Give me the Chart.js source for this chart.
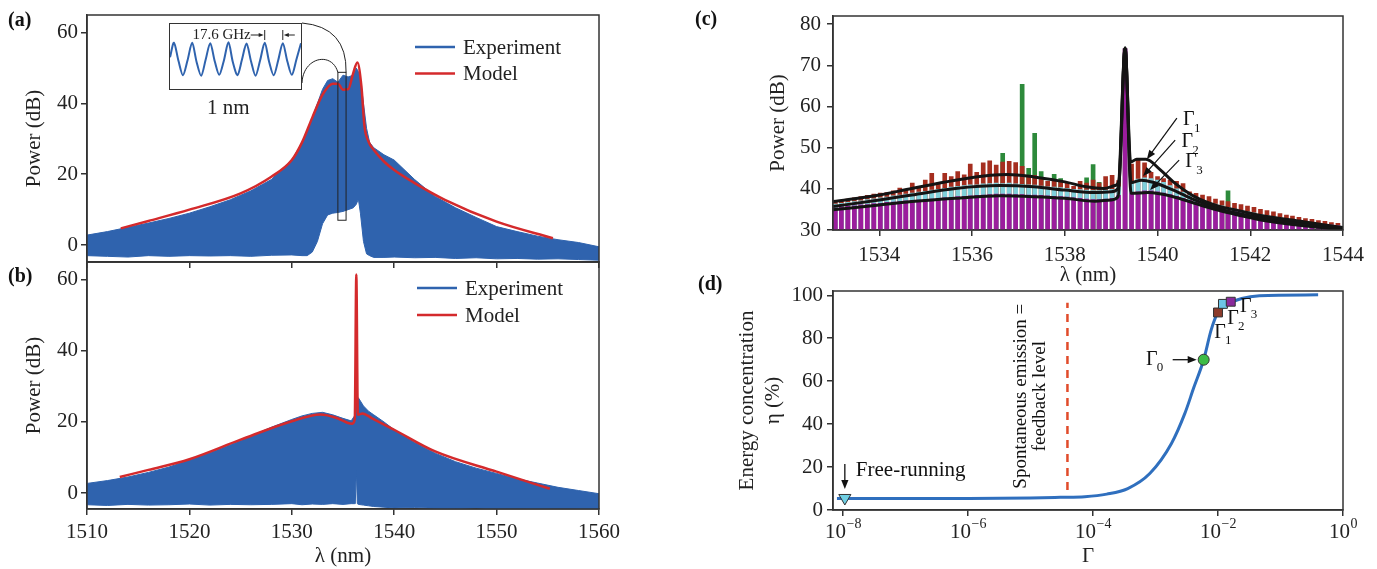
<!DOCTYPE html>
<html>
<head>
<meta charset="utf-8">
<script src="https://cdn.jsdelivr.net/npm/chart.js@4.4.1/dist/chart.umd.min.js"></script>
<style>
  body { margin: 0; background: #fff; width: 1377px; height: 569px; overflow: hidden; position: relative; font-family: 'Liberation Serif', serif; }
  .box { position: absolute; }
  .tag { position: absolute; font: bold 20px 'Liberation Serif', serif; line-height: 22px; color: #111; }
  .note { position: absolute; font: 21px 'Liberation Serif', serif; line-height: 21px; color: #222; }
  #inset { position: absolute; left: 169px; top: 23px; width: 131px; height: 65px; border: 1.5px solid #333; background: #fff; }
</style>
</head>
<body>
<div class="box" style="left:0;top:0;width:620px;height:270px"><canvas id="chartA"></canvas></div>
<div class="box" style="left:0;top:250px;width:620px;height:319px"><canvas id="chartB"></canvas></div>
<div class="box" style="left:690px;top:0;width:687px;height:290px"><canvas id="chartC"></canvas></div>
<div class="box" style="left:690px;top:270px;width:687px;height:299px"><canvas id="chartD"></canvas></div>
<div id="inset"><canvas id="chartInset"></canvas></div>
<div class="note" style="left:207px;top:97px">1 nm</div>
<div class="tag" style="left:8px;top:8px">(a)</div>
<div class="tag" style="left:8px;top:264px">(b)</div>
<div class="tag" style="left:695px;top:7px">(c)</div>
<div class="tag" style="left:698px;top:272px">(d)</div>

<script>
// ---------- (a) spectrum without feedback ----------
const lamA = [1510, 1512, 1514, 1516, 1518, 1520, 1522, 1524, 1526, 1528, 1530, 1531, 1531.5, 1532, 1532.5,
  1533, 1533.5, 1534, 1534.5, 1535, 1535.5, 1536, 1536.3, 1536.5, 1536.7, 1537, 1537.3, 1537.6, 1538, 1539,
  1540, 1542, 1544, 1546, 1548, 1550, 1552, 1554, 1556, 1558, 1560];
const expTopA = [2.8, 3.8, 5.0, 6.2, 7.5, 9.0, 10.8, 12.8, 15.3, 18.5, 24, 29, 32, 36, 40,
  44, 46.5, 47, 46, 48, 47.5, 48, 50, 49, 47, 40, 33, 29, 27.5, 25.5,
  24, 18.5, 13.7, 10.5, 7.8, 5.2, 3.8, 2.5, 1.5, 0.7, -0.5];
const expLowA = [-3, -3.2, -3.4, -3, -3.2, -3, -3.1, -3, -3.2, -2.9, -2.8, -3, -3, -2, 1,
  6, 8.5, 9, 9.2, 9.5, 10, 10.5, 11.5, 13, 9, 1, -2.5, -3, -3.5, -3.5,
  -3.4, -3.6, -3.5, -3.8, -3.6, -3.9, -3.8, -4.0, -3.9, -4.1, -4.3];
const modelLamA = [1513.3, 1516, 1520, 1525, 1528, 1530, 1531, 1532, 1533, 1534, 1534.5, 1535, 1535.5,
  1536, 1536.4, 1536.8, 1537.1, 1537.5, 1538, 1539, 1540, 1542, 1545, 1550, 1555.5];
const modelA = [4.7, 6.8, 10, 14.6, 19.3, 24, 29, 36, 42.5, 45.6, 45.6, 43.9, 44,
  48.6, 51.6, 44.8, 33.5, 29.2, 26.9, 23.6, 21.2, 17.5, 12.7, 6.6, 1.9];
const zoomLam = [1534.5, 1535.3];
const zoomDb = [7, 48.8];

// inset: 1 nm slice of the comb
const insetNm = [0, 0.03, 0.065, 0.099, 0.134, 0.169, 0.203, 0.238, 0.272, 0.307, 0.342, 0.376, 0.411, 0.446, 0.48,
  0.515, 0.549, 0.584, 0.619, 0.653, 0.688, 0.723, 0.757, 0.792, 0.826, 0.861, 0.896, 0.93, 0.965, 1.0];
const insetDb = [43.5, 47, 42.6, 39.2, 42.8, 47, 42.4, 39.1, 42.9, 46.9, 42.5, 39.3, 42.7, 47.1, 42.3,
  39.2, 42.9, 46.8, 42.5, 39.1, 42.8, 47, 42.4, 39.2, 42.8, 46.9, 42.5, 39.3, 43, 46.9];
const fsrPeaks = [0.723, 0.861];

// ---------- (b) spectrum with feedback ----------
const lamB = [1510, 1512, 1514, 1516, 1518, 1520, 1522, 1524, 1526, 1528, 1530, 1531, 1532, 1533, 1534, 1535,
  1535.8, 1536.1, 1536.2, 1536.3, 1536.4, 1536.5, 1537, 1537.5, 1538, 1539, 1540, 1542, 1544, 1546, 1548,
  1550, 1552, 1554, 1556, 1558, 1560];
const expTopB = [2.7, 3.5, 4.5, 5.8, 7.3, 9.3, 11.3, 13.6, 16, 18.5, 20.7, 21.7, 22.4, 22.7, 22, 21,
  20.3, 21.6, 22.5, 25.5, 26.5, 26.8, 24.5, 23, 22, 20, 17.8, 14.2, 11.2, 8.8, 7.0,
  5.5, 4.0, 2.8, 1.6, 0.7, -0.2];
const expLowB = [-3.3, -3.5, -3.2, -3.4, -3.3, -3.1, -3.4, -3.2, -3.3, -3.2, -3.0, -3.3, -3.1, -3.2, -3.0, -3.2,
  -3.0, -3.0, -3.0, 6.6, -3.0, -3.2, -3.4, -3.6, -3.8, -4.0, -4.2, -4.1, -4.3, -4.4, -4.2,
  -4.5, -4.4, -4.6, -4.4, -4.5, -4.6];
const modelLamB = [1513.2, 1516, 1520, 1525, 1530, 1532.8, 1534.4, 1535.5, 1535.9, 1536.15, 1536.3, 1536.45,
  1536.9, 1537.8, 1540, 1544, 1550, 1555.2];
const modelB = [4.5, 6.5, 9.5, 15, 20.2, 22.1, 21.1, 19.7, 19.5, 20.8, 61.5, 22.0,
  22.4, 21.1, 17.8, 11.7, 6.0, 1.2];

const lamTicks = [1510, 1520, 1530, 1540, 1550, 1560];
const powerTicks = [0, 20, 40, 60];

// ---------- (c) comb lines and envelopes ----------
const combLam = [1533.05, 1533.18, 1533.32, 1533.46, 1533.60, 1533.74, 1533.88, 1534.02, 1534.16, 1534.30,
  1534.44, 1534.57, 1534.71, 1534.85, 1534.99, 1535.13, 1535.27, 1535.41, 1535.55, 1535.69,
  1535.83, 1535.96, 1536.10, 1536.24, 1536.38, 1536.52, 1536.66, 1536.80, 1536.94, 1537.08,
  1537.22, 1537.35, 1537.49, 1537.63, 1537.77, 1537.91, 1538.05, 1538.19, 1538.33, 1538.47,
  1538.61, 1538.74, 1538.88, 1539.02, 1539.16, 1539.30, 1539.44, 1539.58, 1539.72, 1539.86,
  1540.00, 1540.13, 1540.27, 1540.41, 1540.55, 1540.69, 1540.83, 1540.97, 1541.11, 1541.25,
  1541.39, 1541.52, 1541.66, 1541.80, 1541.94, 1542.08, 1542.22, 1542.36, 1542.50, 1542.64,
  1542.78, 1542.91, 1543.05, 1543.19, 1543.33, 1543.47, 1543.61, 1543.75, 1543.89];
const combG3 = [35.3, 35.6, 35.8, 35.9, 36.1, 36.2, 36.4, 36.5, 36.7, 36.8,
  36.9, 37.1, 37.2, 37.3, 37.4, 37.5, 37.7, 37.8, 37.9, 38.1,
  38.2, 38.3, 38.4, 38.5, 38.6, 38.7, 38.7, 38.7, 38.6, 38.6,
  38.5, 38.5, 38.4, 38.3, 38.2, 38.1, 38.0, 37.8, 37.7, 37.5,
  37.4, 37.4, 37.5, 37.7, 38.4, 74.0, 39.0, 39.3, 39.5, 39.5,
  39.3, 39.0, 38.6, 38.2, 37.7, 37.2, 36.7, 36.2, 35.8, 35.4,
  35.1, 34.8, 34.5, 34.2, 33.9, 33.7, 33.4, 33.2, 33.0, 32.8,
  32.6, 32.4, 32.2, 32.0, 31.8, 31.6, 31.4, 31.2, 31.0];
const combG2 = [36.3, 36.5, 36.7, 36.9, 37.1, 37.4, 37.6, 37.8, 38.0, 38.3,
  38.5, 38.7, 39.0, 39.2, 39.4, 39.7, 39.9, 40.1, 40.4, 40.6,
  40.8, 41.0, 41.0, 41.2, 41.3, 41.4, 41.3, 41.4, 41.2, 41.1,
  41.0, 40.9, 40.7, 40.5, 40.4, 40.3, 40.1, 39.9, 39.8, 39.7,
  39.6, 39.6, 39.7, 39.9, 40.5, 74.0, 41.8, 42.4, 42.7, 42.5,
  42.1, 41.6, 40.8, 40.0, 39.2, 38.5, 37.8, 37.2, 36.7, 36.3,
  35.9, 35.5, 35.1, 34.8, 34.5, 34.2, 33.8, 33.5, 33.2, 33.0,
  32.7, 32.5, 32.3, 32.1, 31.8, 31.6, 31.4, 31.2, 31.0];
const combG1 = [36.9, 37.2, 37.5, 37.8, 38.1, 38.4, 38.7, 39.0, 39.1, 39.5,
  40.2, 39.8, 41.4, 40.6, 42.1, 43.8, 41.4, 43.8, 43.0, 44.2,
  43.4, 46.0, 44.0, 46.3, 46.8, 45.8, 46.5, 46.7, 46.4, 45.5,
  43.3, 43.3, 42.7, 41.8, 42.1, 41.8, 41.4, 40.6, 41.8, 41.4,
  42.1, 41.4, 43.0, 43.3, 42.0, 74.0, 46.0, 47.0, 46.3, 44.0,
  43.0, 42.5, 42.1, 41.8, 41.3, 39.3, 38.9, 38.5, 38.1, 37.5,
  37.1, 36.9, 36.5, 36.2, 35.8, 35.5, 35.0, 34.7, 34.4, 34.0,
  33.6, 33.4, 33.1, 32.8, 32.6, 32.3, 32.1, 31.8, 31.6];
const g0Lam = [1536.66, 1537.08, 1537.22, 1537.35, 1537.49, 1537.77, 1537.91, 1538.47, 1538.61, 1538.74, 1541.52];
const g0Db = [48.6, 65.4, 45.0, 53.5, 44.2, 43.5, 42.5, 42.7, 45.9, 41.6, 39.5];

const env1Lam = [1533.0, 1534.0, 1534.7, 1535.64, 1536.4, 1536.77, 1537.33, 1538.0, 1538.46, 1538.84, 1539.08, 1539.17,
  1539.3, 1539.42, 1539.55, 1539.75, 1540.06, 1540.34, 1540.8, 1541.28, 1541.75, 1542.2, 1543.15, 1544.0];
const env1Db = [36.9, 38.5, 40.1, 42.1, 43.3, 43.5, 42.9, 41.7, 40.5, 40.1, 40.8, 42.0,
  74.2, 46.5, 47.2, 47.2, 44.6, 41.7, 38.1, 35.9, 34.7, 33.6, 32.0, 30.6];
const env2Lam = [1533.0, 1534.0, 1534.7, 1535.64, 1536.6, 1537.33, 1538.0, 1538.65, 1539.0, 1539.15, 1539.3,
  1539.43, 1539.65, 1539.9, 1540.34, 1540.8, 1541.28, 1541.75, 1542.2, 1543.15, 1544.0];
const env2Db = [35.7, 37.3, 38.5, 40.1, 40.8, 40.5, 39.7, 39.1, 39.3, 40.1, 74.2,
  41.5, 42.1, 41.6, 39.7, 37.3, 35.3, 34.0, 33.0, 31.5, 30.3];
const env3Lam = [1533.0, 1534.0, 1534.7, 1535.64, 1536.6, 1537.33, 1538.0, 1538.65, 1539.0, 1539.15, 1539.3,
  1539.43, 1539.8, 1540.34, 1540.8, 1541.28, 1541.75, 1542.2, 1543.15, 1544.0];
const env3Db = [34.9, 36.1, 36.9, 37.7, 38.3, 38.1, 37.7, 37.0, 37.3, 38.1, 74.2,
  38.9, 39.1, 38.1, 36.5, 34.9, 33.6, 32.5, 31.0, 30.1];
const envArrowTips = [[1539.77, 47.2], [1539.69, 43.1], [1539.84, 39.7]];

const combLamTicks = [1534, 1536, 1538, 1540, 1542, 1544];
const combDbTicks = [30, 40, 50, 60, 70, 80];

// ---------- (d) energy concentration vs feedback ----------
const gammaVals = [8e-9, 1e-7, 1e-6, 1e-5, 3e-5, 7.4e-5, 1.66e-4, 3.6e-4, 8.1e-4, 1.8e-3, 2.95e-3, 4.1e-3,
  5.9e-3, 7.8e-3, 9.8e-3, 1.48e-2, 2.4e-2, 4.6e-2, 0.4];
const etaVals = [5.4, 5.4, 5.4, 5.6, 5.9, 6.2, 7.4, 10, 17, 31, 45, 57, 70, 84, 91.5, 96, 98.5, 99.8, 100.2];
const freeRun = [1.07e-8, 5.6];
const gamma0 = [5.9e-3, 70];
const gammaMarks = [[1e-2, 92], [1.2e-2, 96], [1.6e-2, 97]];
const feedbackGamma = 3.9e-5;
const feedbackEta = [9.3, 96.5];
const gammaTicks = [1e-8, 1e-6, 1e-4, 1e-2, 1];
const etaTicks = [0, 20, 40, 60, 80, 100];

const BLUE = '#2f63ae', RED = '#d42a2c', INK = '#222', AXIS = '#333';
const SERIF = "'Liberation Serif', serif";

Chart.defaults.font.family = SERIF;
Chart.defaults.font.size = 21;
Chart.defaults.color = INK;
Chart.defaults.animation = false;
Chart.defaults.maintainAspectRatio = false;
Chart.defaults.plugins.legend.display = false;
Chart.defaults.plugins.tooltip.enabled = false;

const pts = (xs, ys) => xs.map((x, i) => ({ x, y: ys[i] }));

function axis(min, max, ticks, o) {
  return {
    type: o.type || 'linear', min, max, offset: false,
    afterBuildTicks: s => { s.ticks = ticks.map(v => ({ value: v })); },
    afterFit: s => {
      if (o.w) s.width = o.w;
      if (o.h) s.height = o.h;
      s.paddingLeft = s.paddingRight = s.paddingTop = s.paddingBottom = 0;
    },
    grid: { drawOnChartArea: false, offset: false, tickLength: 6, color: AXIS, lineWidth: 1.5 },
    border: { color: AXIS, width: 1.5 },
    ticks: { display: o.labels !== false, padding: o.pad || 3, maxRotation: 0, autoSkip: false,
             callback: o.fmt || (v => v) },
    title: o.title ? { display: true, text: o.title, padding: { top: 0, bottom: o.tpad || 0 },
                       font: { size: 21, lineHeight: o.lh || 1.2 } } : { display: false }
  };
}

function arrow(ctx, x0, y0, x1, y1, head) {
  const a = Math.atan2(y1 - y0, x1 - x0), c = Math.cos(a), s = Math.sin(a);
  ctx.beginPath(); ctx.moveTo(x0, y0); ctx.lineTo(x1 - c * head * 0.7, y1 - s * head * 0.7); ctx.stroke();
  ctx.beginPath(); ctx.moveTo(x1, y1);
  ctx.lineTo(x1 - head * c + head * 0.4 * s, y1 - head * s - head * 0.4 * c);
  ctx.lineTo(x1 - head * c - head * 0.4 * s, y1 - head * s + head * 0.4 * c);
  ctx.closePath(); ctx.fill();
}

function gammaText(ctx, x, y, sub) {
  ctx.textBaseline = 'middle'; ctx.textAlign = 'center';
  ctx.font = '20px ' + SERIF; ctx.fillText('Γ', x, y);
  ctx.textAlign = 'left';
  ctx.font = '13px ' + SERIF; ctx.fillText(sub, x + 5, y + 8);
}

const frame = {
  id: 'frame',
  afterDraw(chart) {
    const { ctx, chartArea: a } = chart;
    ctx.save(); ctx.strokeStyle = AXIS; ctx.lineWidth = 1.5;
    ctx.strokeRect(a.left, a.top, a.right - a.left, a.bottom - a.top);
    ctx.restore();
  }
};

const key = {
  id: 'key',
  afterDraw(chart, args, o) {
    if (!o.items) return;
    const { ctx, chartArea: a } = chart;
    const x0 = a.right - o.dx, y0 = a.top + o.dy;
    o.items.forEach((it, i) => {
      const y = y0 + i * o.gap;
      ctx.save();
      ctx.strokeStyle = it.color; ctx.lineWidth = 2.5;
      ctx.beginPath(); ctx.moveTo(x0, y); ctx.lineTo(x0 + 40, y); ctx.stroke();
      ctx.fillStyle = INK; ctx.font = '21px ' + SERIF; ctx.textBaseline = 'middle';
      ctx.fillText(it.text, x0 + 48, y + 1);
      ctx.restore();
    });
  }
};

// small frame on the spectrum plus the two curved leaders to the inset
const zoomLink = {
  id: 'zoomLink',
  afterDatasetsDraw(chart) {
    const { ctx, scales: { x, y } } = chart;
    const l = x.getPixelForValue(zoomLam[0]), r = x.getPixelForValue(zoomLam[1]);
    const t = y.getPixelForValue(zoomDb[1]), b = y.getPixelForValue(zoomDb[0]);
    const el = document.getElementById('inset');
    const ir = el.offsetLeft + el.offsetWidth, it = el.offsetTop, ib = it + el.offsetHeight;
    ctx.save();
    ctx.strokeStyle = '#222'; ctx.lineWidth = 1;
    ctx.strokeRect(l, t, r - l, b - t);
    ctx.beginPath(); ctx.moveTo(ir, it); ctx.quadraticCurveTo(r + 1, it + 4, r, t); ctx.stroke();
    ctx.beginPath(); ctx.moveTo(ir, ib - 7); ctx.bezierCurveTo(ir + 1, it + 34, l - 6, it + 28, l, t); ctx.stroke();
    ctx.restore();
  }
};

const fsrMark = {
  id: 'fsrMark',
  afterDatasetsDraw(chart) {
    const { ctx, scales: { x } } = chart;
    const p1 = x.getPixelForValue(fsrPeaks[0]), p2 = x.getPixelForValue(fsrPeaks[1]);
    const y = 11;
    ctx.save();
    ctx.strokeStyle = ctx.fillStyle = '#222'; ctx.lineWidth = 1;
    ctx.beginPath(); ctx.moveTo(p1, y - 5); ctx.lineTo(p1, y + 5); ctx.moveTo(p2, y - 5); ctx.lineTo(p2, y + 5); ctx.stroke();
    arrow(ctx, p1 - 14, y, p1 - 1, y, 5);
    arrow(ctx, p2 + 12, y, p2 + 1, y, 5);
    ctx.font = '15px ' + SERIF; ctx.textAlign = 'right'; ctx.textBaseline = 'middle';
    ctx.fillText('17.6 GHz', p1 - 14, y);
    ctx.restore();
  }
};

// ---- (a) ----
new Chart(document.getElementById('chartA'), {
  type: 'line',
  data: { datasets: [
    { label: 'Model', data: pts(modelLamA, modelA), borderColor: RED, borderWidth: 2.5, pointRadius: 0, cubicInterpolationMode: 'monotone' },
    { label: 'Experiment', data: pts(lamA, expTopA), borderColor: BLUE, backgroundColor: BLUE, borderWidth: 1, pointRadius: 0, fill: '+1' },
    { label: 'Experiment floor', data: pts(lamA, expLowA), borderColor: BLUE, borderWidth: 1, pointRadius: 0, fill: false }
  ] },
  options: {
    layout: { padding: { left: 22, top: 15, right: 21, bottom: 0 } },
    scales: {
      x: axis(1510, 1560, lamTicks, { h: 8, labels: false }),
      y: axis(-4.8, 65, powerTicks, { w: 65, pad: 3, title: 'Power (dB)' })
    },
    plugins: { key: { dx: 184, dy: 32, gap: 26.5, items: [{ text: 'Experiment', color: BLUE }, { text: 'Model', color: RED }] } }
  },
  plugins: [zoomLink, key, frame]
});

// ---- inset ----
new Chart(document.getElementById('chartInset'), {
  type: 'line',
  data: { datasets: [{ data: pts(insetNm, insetDb), borderColor: BLUE, borderWidth: 2, pointRadius: 0, tension: 0.3 }] },
  options: {
    layout: { padding: 0 },
    scales: { x: { type: 'linear', min: 0, max: 1, display: false }, y: { min: 35.9, max: 51.5, display: false } }
  },
  plugins: [fsrMark]
});

// ---- (b) ----
new Chart(document.getElementById('chartB'), {
  type: 'line',
  data: { datasets: [
    { label: 'Model', data: pts(modelLamB, modelB), borderColor: RED, borderWidth: 2.5, pointRadius: 0, cubicInterpolationMode: 'monotone' },
    { label: 'Experiment', data: pts(lamB, expTopB), borderColor: BLUE, backgroundColor: BLUE, borderWidth: 1, pointRadius: 0, fill: '+1' },
    { label: 'Experiment floor', data: pts(lamB, expLowB), borderColor: BLUE, borderWidth: 1, pointRadius: 0, fill: false }
  ] },
  options: {
    layout: { padding: { left: 22, top: 12, right: 21, bottom: 0 } },
    scales: {
      x: axis(1510, 1560, lamTicks, { h: 60, pad: 5, title: 'λ (nm)' }),
      y: axis(-4.5, 65, powerTicks, { w: 65, pad: 3, title: 'Power (dB)' })
    },
    plugins: { key: { dx: 182, dy: 26, gap: 27, items: [{ text: 'Experiment', color: BLUE }, { text: 'Model', color: RED }] } }
  },
  plugins: [key, frame]
});

// ---- (c) ----
const envNotes = {
  id: 'envNotes',
  afterDatasetsDraw(chart) {
    const { ctx, scales: { x, y } } = chart;
    const tails = [[30, -41], [32, -36], [29, -30]];
    ctx.save();
    ctx.strokeStyle = ctx.fillStyle = '#111'; ctx.lineWidth = 1.2;
    envArrowTips.forEach((tip, i) => {
      const px = x.getPixelForValue(tip[0]), py = y.getPixelForValue(tip[1]);
      const tx = px + tails[i][0], ty = py + tails[i][1];
      arrow(ctx, tx, ty, px, py, 9);
      gammaText(ctx, tx + 12, ty + 2, String(i + 1));
    });
    ctx.restore();
  }
};
const bar = (label, data, color) => ({
  type: 'bar', label, data, backgroundColor: color, borderWidth: 0, barThickness: 4, grouped: false
});
const envLine = (label, data) => ({
  type: 'line', label, data, borderColor: '#141414', borderWidth: 3, pointRadius: 0, cubicInterpolationMode: 'monotone'
});
new Chart(document.getElementById('chartC'), {
  type: 'bar',
  data: { datasets: [
    envLine('Γ1', pts(env1Lam, env1Db)),
    envLine('Γ2', pts(env2Lam, env2Db)),
    envLine('Γ3', pts(env3Lam, env3Db)),
    bar('Γ3 comb', pts(combLam, combG3), '#9b1d9d'),
    bar('Γ2 comb', pts(combLam, combG2), '#80d0da'),
    bar('Γ1 comb', pts(combLam, combG1), '#a52e1f'),
    bar('Γ0 comb', pts(g0Lam, g0Db), '#2d8a3b')
  ] },
  options: {
    layout: { padding: { left: 76, top: 16, right: 34, bottom: 0 } },
    scales: {
      x: axis(1533, 1544, combLamTicks, { h: 60, pad: 7, tpad: 2, title: 'λ (nm)' }),
      y: axis(30, 82, combDbTicks, { w: 67, pad: 6, title: 'Power (dB)' })
    }
  },
  plugins: [envNotes, frame]
});

// ---- (d) ----
// power-of-ten tick labels with a raised exponent
const decadeLabels = {
  id: 'decadeLabels',
  afterDraw(chart) {
    const { ctx, scales: { x }, chartArea: a } = chart;
    ctx.save();
    ctx.fillStyle = INK; ctx.textBaseline = 'middle'; ctx.textAlign = 'left';
    gammaTicks.forEach(v => {
      const exp = String(Math.round(Math.log10(v))).replace('-', '\u2212');
      ctx.font = '21px ' + SERIF; const wb = ctx.measureText('10').width;
      ctx.font = '14px ' + SERIF; const we = ctx.measureText(exp).width;
      const x0 = x.getPixelForValue(v) - (wb + we) / 2, y0 = a.bottom + 22;
      ctx.font = '21px ' + SERIF; ctx.fillText('10', x0, y0);
      ctx.font = '14px ' + SERIF; ctx.fillText(exp, x0 + wb + 0.5, y0 - 8);
    });
    ctx.restore();
  }
};
const etaNotes = {
  id: 'etaNotes',
  afterDatasetsDraw(chart) {
    const { ctx, scales: { x, y } } = chart;
    ctx.save();
    ctx.strokeStyle = ctx.fillStyle = '#111'; ctx.lineWidth = 1.3;
    // free-running point
    const fx = x.getPixelForValue(freeRun[0]), fy = y.getPixelForValue(freeRun[1]);
    arrow(ctx, fx, fy - 34, fx, fy - 9, 9);
    ctx.font = '21px ' + SERIF; ctx.textAlign = 'left'; ctx.textBaseline = 'middle';
    ctx.fillText('Free-running', fx + 11, fy - 27);
    // Γ0
    const gx = x.getPixelForValue(gamma0[0]), gy = y.getPixelForValue(gamma0[1]);
    arrow(ctx, gx - 31, gy, gx - 7, gy, 9);
    gammaText(ctx, gx - 52, gy, '0');
    // Γ1..Γ3
    const offs = [[2, 20], [10, 15], [15, 5]];
    gammaMarks.forEach((m, i) => {
      gammaText(ctx, x.getPixelForValue(m[0]) + offs[i][0], y.getPixelForValue(m[1]) + offs[i][1], String(i + 1));
    });
    // label of the dashed line
    const dx = x.getPixelForValue(feedbackGamma), cy = y.getPixelForValue(53);
    ctx.font = '19px ' + SERIF; ctx.textAlign = 'center';
    ctx.translate(dx, cy); ctx.rotate(-Math.PI / 2);
    ctx.fillText('Spontaneous emission =', 0, -46);
    ctx.fillText('feedback level', 0, -27);
    ctx.restore();
  }
};
new Chart(document.getElementById('chartD'), {
  type: 'line',
  data: { datasets: [
    { label: 'Γ3', data: [{ x: gammaMarks[2][0], y: gammaMarks[2][1] }], showLine: false, pointStyle: 'rect', pointRadius: 6.3, pointBackgroundColor: '#8a2a9c', pointBorderColor: '#333', pointBorderWidth: 1 },
    { label: 'Γ2', data: [{ x: gammaMarks[1][0], y: gammaMarks[1][1] }], showLine: false, pointStyle: 'rect', pointRadius: 6.3, pointBackgroundColor: '#6cc4e6', pointBorderColor: '#333', pointBorderWidth: 1 },
    { label: 'Γ1', data: [{ x: gammaMarks[0][0], y: gammaMarks[0][1] }], showLine: false, pointStyle: 'rect', pointRadius: 6.3, pointBackgroundColor: '#8c3b2b', pointBorderColor: '#333', pointBorderWidth: 1 },
    { label: 'Γ0', data: [{ x: gamma0[0], y: gamma0[1] }], showLine: false, pointStyle: 'circle', pointRadius: 5.5, pointBackgroundColor: '#3dbb45', pointBorderColor: '#333', pointBorderWidth: 1 },
    { label: 'Free-running', data: [{ x: freeRun[0], y: freeRun[1] }], showLine: false, pointStyle: 'triangle', pointRotation: 180, pointRadius: 7, pointBackgroundColor: '#6fcfe3', pointBorderColor: '#333', pointBorderWidth: 1 },
    { label: 'η', data: pts(gammaVals, etaVals), borderColor: '#2f6fbe', borderWidth: 3, pointRadius: 0, cubicInterpolationMode: 'monotone' },
    { label: 'feedback level', data: [{ x: feedbackGamma, y: feedbackEta[0] }, { x: feedbackGamma, y: feedbackEta[1] }], borderColor: '#e14b2a', borderWidth: 2.5, borderDash: [8, 6], pointRadius: 0 }
  ] },
  options: {
    layout: { padding: { left: 44, top: 21, right: 34, bottom: 0 } },
    scales: {
      x: axis(Math.pow(10, -8.16), 1, gammaTicks, { type: 'logarithmic', h: 59, labels: false, title: 'Γ' }),
      y: axis(0, 102, etaTicks, { w: 99, pad: 4, lh: 1.25, title: ['Energy concentration', 'η (%)'] })
    }
  },
  plugins: [etaNotes, decadeLabels, frame]
});
</script>
</body>
</html>
